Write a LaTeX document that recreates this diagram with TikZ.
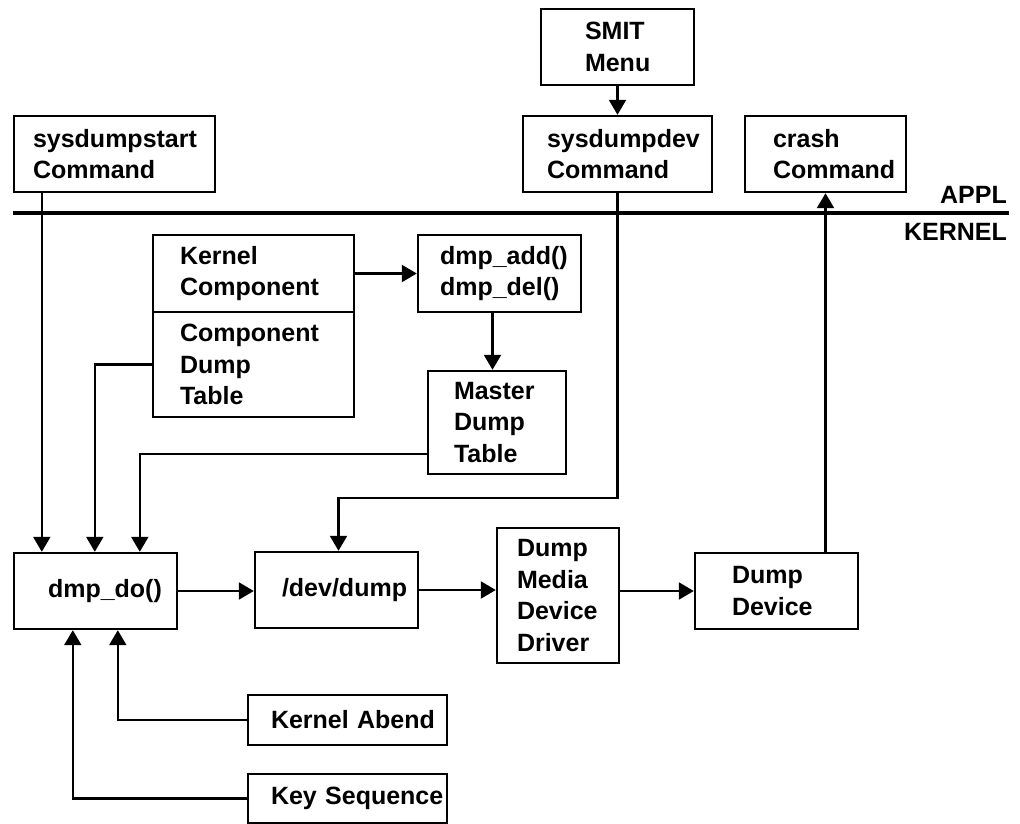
\documentclass[tikz,border=0pt]{standalone}
\usepackage{fontspec}
\setmainfont{Liberation Sans}
\usetikzlibrary{arrows.meta}
\begin{document}
\begin{tikzpicture}[x=1pt,y=-1pt,
  every node/.style={font=\fontsize{25}{31.5}\selectfont\bfseries},
  box/.style={draw,line width=2.4pt,inner xsep=0pt,inner ysep=0pt,align=left},
  arr/.style={line width=2.2pt,-{Triangle[length=15pt,width=17pt]}},
  wire/.style={line width=2.2pt}]
\useasboundingbox (0,0) rectangle (1020,824);

% application side
\node[box,minimum width=153,minimum height=76,text width=65] (smit) at (617.5,47) {SMIT\\Menu};
\node[box,minimum width=201,minimum height=76,text width=163] (sdstart) at (114.5,154) {sysdumpstart\\Command};
\node[box,minimum width=189,minimum height=76,text width=141] (sddev) at (617.5,154) {sysdumpdev\\Command};
\node[box,minimum width=161,minimum height=76,text width=105] (crash) at (825.5,154) {crash\\Command};

% APPL / KERNEL boundary
\coordinate (bl) at (13,213);
\coordinate (br) at (1009,213);
\draw[line width=3.4pt] (bl) -- (br);
\node[anchor=base east,inner sep=0pt] (appl) at (1007,203) {APPL};
\node[anchor=base east,inner sep=0pt] (kern) at (1007,240) {KERNEL};

% kernel side
\node[box,minimum width=201,minimum height=77,text width=147] (kc) at (253.5,273.5) {Kernel\\Component};
\node[box,minimum width=201,minimum height=105,text width=147] (cdt) at (253.5,364.5) {Component\\Dump\\Table};
\node[box,minimum width=163,minimum height=77,text width=119] (add) at (499.5,273.5) {dmp\_add()\\dmp\_del()};
\node[box,minimum width=138,minimum height=103,text width=86] (mdt) at (497,422.5) {Master\\Dump\\Table};
\node[box,minimum width=163,minimum height=76,text width=95] (dmpdo) at (95.5,591) {dmp\_do()};
\node[box,minimum width=163,minimum height=76,text width=109] (devdump) at (336.5,590) {/dev/dump};
\node[box,minimum width=122,minimum height=135,text width=82] (dmdd) at (558,595.5) {Dump\\Media\\Device\\Driver};
\node[box,minimum width=163,minimum height=76,text width=89] (ddev) at (776.5,591) {Dump\\Device};
\node[box,minimum width=199,minimum height=50,text width=153] (abend) at (347.5,720) {\mbox{Kernel Abend}};
\node[box,minimum width=199,minimum height=49,text width=153] (keyseq) at (347.5,798.5) {\mbox{Key Sequence}};

% connectors
\draw[arr] (smit) -- (sddev);
\draw[arr] ([xshift=29pt]sdstart.south west) -- ([xshift=29pt]dmpdo.north west);
\draw[arr] (cdt.west) -| ([xshift=82pt]dmpdo.north west);
\draw[arr] ([yshift=-31.5pt]mdt.west) -| ([xshift=127pt]dmpdo.north west);
\draw[arr] (kc.east) -- (kc.east -| add.west);
\draw[arr] ([xshift=-7pt]add.south) -- ([xshift=-7pt]add.south |- mdt.north);
\coordinate (devbend) at (617.5,498);
\draw[arr] (sddev.south) -- (devbend) -| ([xshift=2pt]devdump.north);
\draw[arr] (dmpdo.east) -- (dmpdo.east -| devdump.west);
\draw[arr] (devdump.east) -- (devdump.east -| dmdd.west);
\draw[arr] (ddev.west -| dmdd.east) -- (ddev.west);
\draw[arr] (ddev.north -| crash.south) -- (crash.south);
\draw[arr] (abend.west) -| ([xshift=105pt]dmpdo.south west);
\draw[arr] (keyseq.west) -| ([xshift=60pt]dmpdo.south west);
\end{tikzpicture}
\end{document}
